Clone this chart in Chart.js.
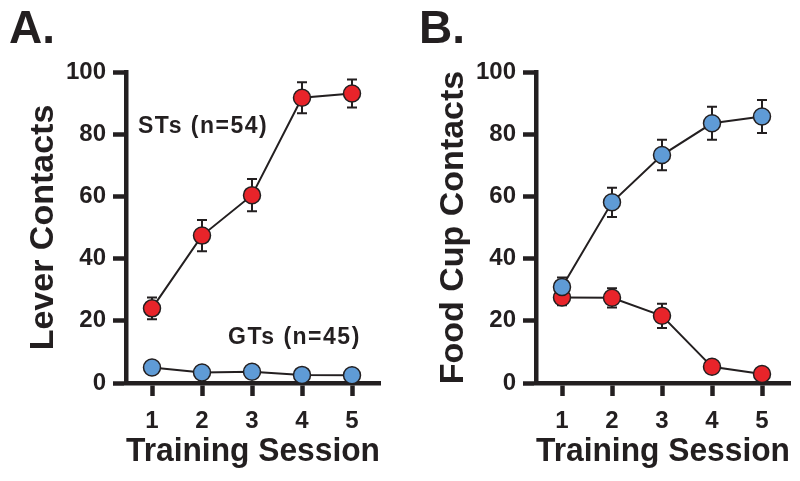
<!DOCTYPE html>
<html>
<head>
<meta charset="utf-8">
<script src="https://cdn.jsdelivr.net/npm/chart.js@4.4.1/dist/chart.umd.min.js"></script>
<style>
  body { margin: 0; background: #fff; }
  #wrap { position: relative; width: 800px; height: 481px; overflow: hidden; }
  .panel { position: absolute; top: 0; }
</style>
</head>
<body>
<div id="wrap">
  <div class="panel" style="left:0"><canvas id="chartA" width="400" height="481"></canvas></div>
  <div class="panel" style="left:410px"><canvas id="chartB" width="390" height="481"></canvas></div>
</div>
<script>
const FONT = "'Liberation Sans', Arial, Helvetica, sans-serif";
const INK = '#231f20';
const RED = '#e8242a';
const BLUE = '#5f9bd6';

// data (mean and SEM per session)
const sessions = [1, 2, 3, 4, 5];
const yTicks = [0, 20, 40, 60, 80, 100];

const stLever = [24.0, 47.4, 60.4, 91.7, 93.1];
const stLeverErr = [3.5, 5.0, 5.2, 5.0, 4.5];
const gtLever = [5.0, 3.4, 3.6, 2.6, 2.5];
const gtLeverErr = [1.0, 0.8, 0.8, 0.6, 0.6];

const stCup = [27.5, 27.4, 21.6, 5.2, 2.9];
const stCupErr = [2.5, 3.1, 3.9, 1.0, 0.8];
const gtCup = [30.9, 58.1, 73.3, 83.5, 85.7];
const gtCupErr = [3.0, 4.7, 4.9, 5.3, 5.3];

const toPoints = vals => vals.map((v, i) => ({ x: sessions[i], y: v }));

function series(vals, errs, color) {
  return {
    data: toPoints(vals),
    err: errs,
    borderColor: INK,
    borderWidth: 2,
    pointBackgroundColor: color,
    pointBorderColor: INK,
    pointBorderWidth: 1.5,
    pointRadius: 8.5,
    pointHoverRadius: 8.5,
    tension: 0,
    clip: false,
  };
}

// SEM whiskers, drawn under the markers
const errorBars = {
  id: 'errorBars',
  beforeDatasetsDraw(chart) {
    const { ctx, scales: { x, y } } = chart;
    ctx.save();
    ctx.strokeStyle = INK;
    ctx.lineWidth = 2;
    chart.data.datasets.forEach(ds => {
      ds.data.forEach((p, i) => {
        const e = ds.err[i];
        const px = x.getPixelForValue(p.x);
        const top = y.getPixelForValue(p.y + e);
        const bot = y.getPixelForValue(p.y - e);
        ctx.beginPath();
        ctx.moveTo(px, top); ctx.lineTo(px, bot);
        ctx.moveTo(px - 5, top); ctx.lineTo(px + 5, top);
        ctx.moveTo(px - 5, bot); ctx.lineTo(px + 5, bot);
        ctx.stroke();
      });
    });
    ctx.restore();
  }
};

// panel letter and group labels
const notes = {
  id: 'notes',
  afterDraw(chart, args, opts) {
    const ctx = chart.ctx;
    ctx.save();
    ctx.fillStyle = INK;
    ctx.textBaseline = 'alphabetic';
    ctx.font = 'bold 46px ' + FONT;
    ctx.fillText(opts.letter, 9, 43);
    ctx.font = 'bold 23px ' + FONT;
    ctx.letterSpacing = '1.5px';
    (opts.labels || []).forEach(l => ctx.fillText(l.text, l.x, l.y));
    ctx.restore();
  }
};

function makeOptions(yTitle, letter, labels, padRight) {
  const tickFont = { family: FONT, size: 24, weight: 'bold', lineHeight: 1 };
  return {
    responsive: false,
    animation: false,
    events: [],
    layout: { padding: { left: 0, right: padRight, top: 72, bottom: 0 } },
    plugins: {
      legend: { display: false },
      tooltip: { enabled: false },
      notes: { letter, labels },
    },
    scales: {
      x: {
        type: 'linear',
        min: 0.48,
        max: 5.56,
        afterBuildTicks: s => { s.ticks = sessions.map(v => ({ value: v })); },
        afterFit: s => { s.height = 98; },
        border: { color: INK, width: 4.5 },
        grid: { drawOnChartArea: false, color: INK, tickLength: 13, tickWidth: 4.5 },
        ticks: { color: INK, font: tickFont, padding: 13, maxRotation: 0 },
        title: {
          display: true,
          text: 'Training Session',
          color: INK,
          font: { family: FONT, size: 34, weight: 'bold', lineHeight: 1 },
          padding: { top: 0, bottom: 12 },
        },
      },
      y: {
        min: 0,
        max: 100,
        afterBuildTicks: s => { s.ticks = yTicks.map(v => ({ value: v })); },
        afterFit: s => { s.width = 126; },
        border: { color: INK, width: 4.5 },
        grid: { drawOnChartArea: false, color: INK, tickLength: 13, tickWidth: 4.5 },
        ticks: { color: INK, font: tickFont, padding: 7 },
        title: {
          display: true,
          text: yTitle,
          color: INK,
          font: { family: FONT, size: 34, weight: 'bold', lineHeight: 1 },
          padding: { top: 27, bottom: 0 },
        },
      },
    },
  };
}

new Chart(document.getElementById('chartA'), {
  type: 'line',
  data: {
    datasets: [
      series(stLever, stLeverErr, RED),
      series(gtLever, gtLeverErr, BLUE),
    ],
  },
  options: makeOptions('Lever Contacts', 'A.', [
    { text: 'STs (n=54)', x: 138, y: 133 },
    { text: 'GTs (n=45)', x: 228, y: 344 },
  ], 20),
  plugins: [errorBars, notes],
});

new Chart(document.getElementById('chartB'), {
  type: 'line',
  data: {
    datasets: [
      series(gtCup, gtCupErr, BLUE),
      series(stCup, stCupErr, RED),
    ],
  },
  options: makeOptions('Food Cup Contacts', 'B.', [], 10),
  plugins: [errorBars, notes],
});
</script>
</body>
</html>
